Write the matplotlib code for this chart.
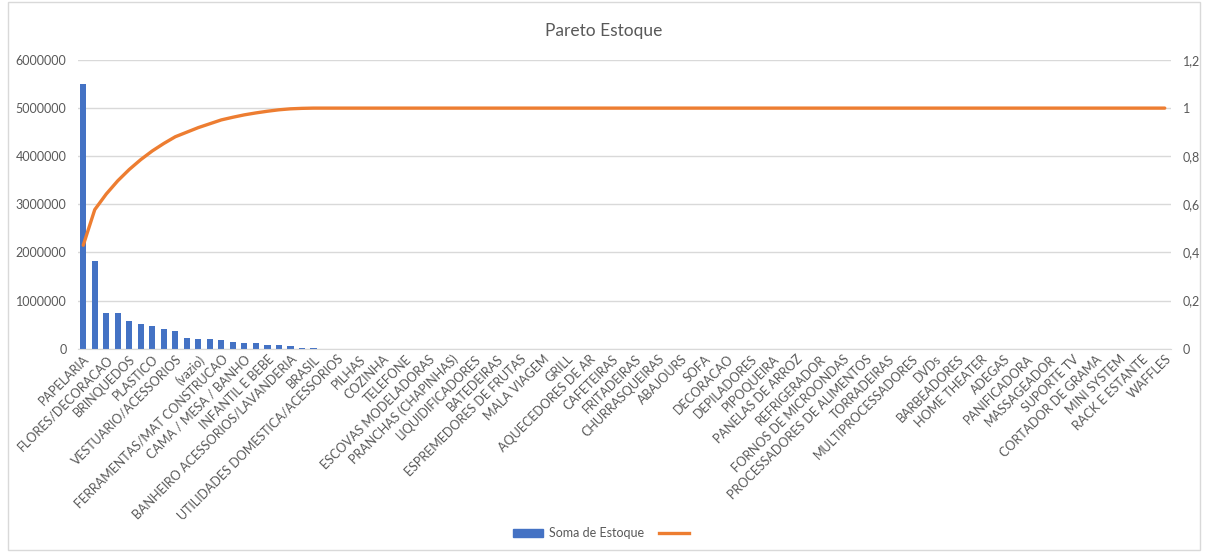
import matplotlib.pyplot as plt
from matplotlib.patches import Patch, Rectangle
from matplotlib.lines import Line2D

plt.rcParams['font.family'] = ['Lato', 'DejaVu Sans']

# only every second category name is shown on the axis (Excel skips the rest)
shown_labels = [
    "PAPELARIA", "FLORES/DECORACAO", "BRINQUEDOS", "PLASTICO", "VESTUARIO/ACESSORIOS",
    "(vazio)", "FERRAMENTAS/MAT CONSTRUCAO", "CAMA / MESA / BANHO", "INFANTIL E BEBE",
    "BANHEIRO ACESSORIOS/LAVANDERIA", "BRASIL", "UTILIDADES DOMESTICA/ACESSORIOS",
    "PILHAS", "COZINHA", "TELEFONE", "ESCOVAS MODELADORAS", "PRANCHAS (CHAPINHAS)",
    "LIQUIDIFICADORES", "BATEDEIRAS", "ESPREMEDORES DE FRUTAS", "MALA VIAGEM", "GRILL",
    "AQUECEDORES DE AR", "CAFETEIRAS", "FRITADEIRAS", "CHURRASQUEIRAS", "ABAJOURS", "SOFA",
    "DECORACAO", "DEPILADORES", "PIPOQUEIRA", "PANELAS DE ARROZ", "REFRIGERADOR",
    "FORNOS DE MICROONDAS", "PROCESSADORES DE ALIMENTOS", "TORRADEIRAS",
    "MULTIPROCESSADORES", "DVDs", "BARBEADORES", "HOME THEATER", "ADEGAS", "PANIFICADORA",
    "MASSAGEADOR", "SUPORTE TV", "CORTADOR DE GRAMA", "MINI SYSTEM", "RACK E ESTANTE",
    "WAFFLES",
]

estoque = [
    5500000, 1830000, 750000, 750000, 576000, 507000, 472000, 417000, 368000, 222000,
    208000, 194000, 180000, 139000, 111000, 111000, 83000, 76000, 62000, 20000, 20000,
] + [0] * 74

acumulado = [
    0.430, 0.578, 0.643, 0.698, 0.745, 0.786, 0.822, 0.853, 0.881, 0.900,
    0.919, 0.935, 0.951, 0.962, 0.972, 0.980, 0.987, 0.993, 0.997, 0.999, 1.0,
] + [1.0] * 74

text_c = '#595959'
grid_c = '#d9d9d9'
bar_c = '#4472C4'
line_c = '#ED7D31'

fig = plt.figure(figsize=(12.08, 5.52), dpi=100)
ax = fig.add_axes([77.5 / 1208, 1 - 348.7 / 552, (1170.5 - 77.5) / 1208, (348.7 - 60) / 552])
ax2 = ax.twinx()

x = list(range(len(estoque)))
ax.bar(x, estoque, width=0.55, color=bar_c, zorder=2)
ax2.plot(x, acumulado, color=line_c, lw=2.4, solid_capstyle='round', zorder=3)

ax.set_xlim(-0.5, len(estoque) - 0.5)
ax.set_ylim(0, 6000000)
ax.set_yticks(range(0, 6000001, 1000000))
ax.set_yticklabels([str(v) for v in range(0, 6000001, 1000000)])
ax2.set_ylim(0, 1.2)
r_ticks = [0, 0.2, 0.4, 0.6, 0.8, 1.0, 1.2]
ax2.set_yticks(r_ticks)
ax2.set_yticklabels(['0', '0,2', '0,4', '0,6', '0,8', '1', '1,2'])

ax.set_xticks(x[::2])
ax.set_xticklabels(shown_labels, rotation=45, ha='right', rotation_mode='anchor')

ax.grid(axis='y', color=grid_c, lw=1, zorder=0)
ax.set_axisbelow(True)
for a in (ax, ax2):
    for s in a.spines.values():
        s.set_visible(False)
    a.tick_params(length=0, colors=text_c, labelsize=9)
ax.spines['bottom'].set_visible(True)
ax.spines['bottom'].set_color(grid_c)
ax.tick_params(axis='y', pad=8)
ax.tick_params(axis='x', pad=3)
ax2.tick_params(axis='y', pad=9)

fig.text(0.5, 1 - 31 / 552, 'Pareto Estoque', ha='center', va='center', fontsize=12.5, color=text_c)

handles = [Patch(color=bar_c), Line2D([], [], color=line_c, lw=2.4)]
fig.legend(handles, ['Soma de Estoque', ''], loc='center', bbox_to_anchor=(0.5, 1 - 533 / 552),
           ncol=2, frameon=False, fontsize=9, labelcolor=text_c, handlelength=2.4,
           handleheight=0.6, columnspacing=1.2, handletextpad=0.5)

fig.add_artist(Rectangle((8 / 1208, 2 / 552), 1 - 16 / 1208, 1 - 4 / 552, transform=fig.transFigure,
                         fill=False, edgecolor=grid_c, lw=1))

fig.savefig('out.png', dpi=100, facecolor='white')
